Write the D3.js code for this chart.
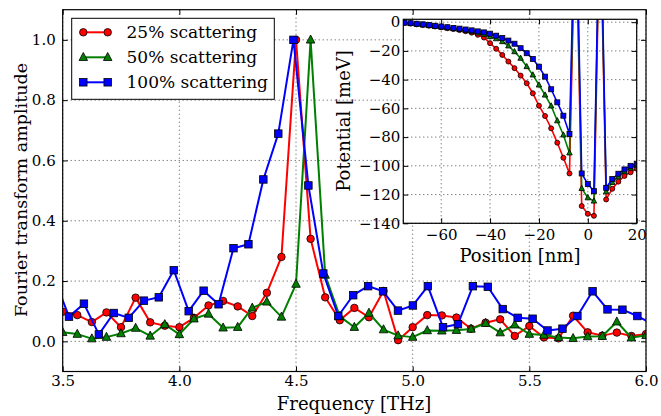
<!DOCTYPE html>
<html>
<head>
<meta charset="utf-8">
<script src="https://cdn.jsdelivr.net/npm/d3@7"></script>
<style>
  body { margin: 0; background: #fff; }
  svg { display: block; font-family: "DejaVu Serif", serif; }
</style>
</head>
<body>
<div id="chart"></div>
<script>
// main plot: Fourier amplitude vs frequency
const freqRG = [3.5, 3.5625, 3.625, 3.6875, 3.75, 3.8125, 3.875, 3.9375, 4.0, 4.0625,
  4.125, 4.1875, 4.25, 4.3125, 4.375, 4.4375, 4.5, 4.5625, 4.625, 4.6875,
  4.75, 4.8125, 4.875, 4.9375, 5.0, 5.0625, 5.125, 5.1875, 5.25, 5.3125,
  5.375, 5.4375, 5.5, 5.5625, 5.625, 5.6875, 5.75, 5.8125, 5.875, 5.9375, 6.0];
const freqB = [3.463, 3.527, 3.591, 3.655, 3.719, 3.783, 3.848, 3.912, 3.976, 4.040,
  4.104, 4.168, 4.232, 4.296, 4.360, 4.424, 4.489, 4.553, 4.617, 4.681,
  4.745, 4.809, 4.873, 4.937, 5.001, 5.065, 5.130, 5.194, 5.258, 5.322,
  5.386, 5.450, 5.514, 5.578, 5.642, 5.706, 5.771, 5.835, 5.899, 5.963, 6.027];

const amp25 = [0.098, 0.087, 0.064, 0.096, 0.047, 0.145, 0.063, 0.052, 0.047, 0.078,
  0.119, 0.134, 0.116, 0.084, 0.161, 0.280, 1.0, 0.340, 0.146, 0.070,
  0.111, 0.080, 0.167, 0.004, 0.047, 0.087, 0.086, 0.079, 0.042, 0.062,
  0.073, 0.018, 0.051, 0.013, 0.010, 0.085, 0.030, 0.019, 0.029, 0.018, 0.024];
const amp50 = [0.030, 0.024, 0.009, 0.014, 0.026, 0.044, 0.018, 0.056, 0.023, 0.075,
  0.091, 0.045, 0.047, 0.111, 0.131, 0.081, 0.190, 1.0, 0.22, 0.083,
  0.047, 0.094, 0.039, 0.019, 0.014, 0.036, 0.035, 0.037, 0.041, 0.060,
  0.029, 0.055, 0.024, 0.021, 0.013, 0.010, 0.016, 0.017, 0.065, 0.012, 0.020];
const amp100 = [0.21, 0.082, 0.125, 0.023, 0.094, 0.078, 0.135, 0.146, 0.236, 0.100,
  0.168, 0.123, 0.309, 0.322, 0.537, 0.689, 1.0, 0.517, 0.225, 0.084,
  0.153, 0.183, 0.166, 0.102, 0.119, 0.183, 0.047, 0.057, 0.183, 0.181,
  0.107, 0.078, 0.075, 0.036, 0.042, 0.084, 0.166, 0.106, 0.105, 0.084, 0.058];

// inset: potential profile
const position = [-75, -72.5, -70, -67.5, -65, -62.5, -60, -57.5, -55, -52.5,
  -50, -47.5, -45, -42.5, -40, -37.5, -35, -32.5, -30, -27.5,
  -25, -22.5, -20, -17.5, -15, -12.5, -10, -7.5, -5, -2.5,
  0, 2.5, 5, 7.5, 10, 12.5, 15, 17.5, 20];
const pot25 = [-0.5, -1.0, -1.5, -2.0, -2.5, -3.0, -3.6, -4.2, -4.8, -5.5,
  -6.3, -7.3, -8.8, -10.7, -14.6, -18.5, -22.8, -27.4, -32.0, -37.2,
  -42.5, -49.5, -58.1, -65.3, -73.9, -83.9, -94.4, -105.3, 80, -128,
  -133.4, -134.8, 80, -123.4, -116, -111, -107, -104.5, -102];
const pot50 = [-0.3, -0.8, -1.3, -1.8, -2.3, -2.8, -3.3, -3.9, -4.5, -5.1,
  -5.8, -6.6, -7.5, -8.6, -10.0, -11.5, -13.5, -16.5, -20.5, -25.1,
  -30.9, -36.7, -43.7, -50.7, -58.3, -68.6, -78.5, -91.0, 90, -115.7,
  -122.2, -124.5, 90, -118, -111.5, -107.5, -104, -101.5, -99.5];
const pot100 = [-0.3, -0.7, -1.1, -1.5, -2.0, -2.5, -3.0, -3.5, -4.0, -4.5,
  -5.1, -5.7, -6.4, -7.1, -8.0, -9.4, -11.0, -12.8, -15.0, -18.1,
  -21.6, -25.6, -31.0, -37.9, -46.7, -55.8, -65.1, -77.9, 100, -105.3,
  -112.7, -117.6, 100, -115.3, -109.2, -105.5, -102.5, -100, -98.5];

const labels = ["25% scattering", "50% scattering", "100% scattering"];
const colors = ["#ff0000", "#007f00", "#0000ff"];
const shapes = ["circle", "triangle", "square"];

const freqTicks = [3.5, 4.0, 4.5, 5.0, 5.5, 6.0];
const ampTicks = [0.0, 0.2, 0.4, 0.6, 0.8, 1.0];
const posTicks = [-60, -40, -20, 0, 20];
const potTicks = [0, -20, -40, -60, -80, -100, -120, -140];

const W = 661, H = 416;
const svg = d3.select("#chart").append("svg").attr("width", W).attr("height", H);
svg.append("rect").attr("width", W).attr("height", H).attr("fill", "#fff");

const x = d3.scaleLinear().domain([3.5, 6.0]).range([62.7, 646]);
const y = d3.scaleLinear().domain([-0.1, 1.1]).range([371.5, 9.7]);

const xi = d3.scaleLinear().domain([-75.5, 20]).range([403.3, 636.7]);
const yi = d3.scaleLinear().domain([-140, 2]).range([223.3, 19.3]);

function marker(g, shape, s) {
  if (shape === "circle") {
    return g.append("circle").attr("r", s / 2);
  }
  if (shape === "square") {
    return g.append("rect").attr("x", -s / 2).attr("y", -s / 2).attr("width", s).attr("height", s);
  }
  const h = s * 0.95;
  return g.append("path").attr("d", `M0,${-h * 0.6}L${s / 2},${h * 0.4}L${-s / 2},${h * 0.4}Z`);
}

function panel(xs, ys, fmtX, fmtY, xt, yt, clipId, padX, padY) {
  const [x0, x1] = xs.range();
  const [y0, y1] = ys.range();
  const g = svg.append("g");
  g.append("rect").attr("x", x0).attr("y", y1).attr("width", x1 - x0).attr("height", y0 - y1).attr("fill", "#fff");
  svg.append("clipPath").attr("id", clipId).append("rect")
    .attr("x", x0).attr("y", y1).attr("width", x1 - x0).attr("height", y0 - y1);

  // dotted grid
  g.selectAll(".gx").data(xt).enter().append("line")
    .attr("x1", d => xs(d)).attr("x2", d => xs(d)).attr("y1", y1).attr("y2", y0)
    .attr("stroke", "#000").attr("stroke-width", 0.7).attr("stroke-dasharray", "1,3");
  g.selectAll(".gy").data(yt).enter().append("line")
    .attr("x1", x0).attr("x2", x1).attr("y1", d => ys(d)).attr("y2", d => ys(d))
    .attr("stroke", "#000").attr("stroke-width", 0.7).attr("stroke-dasharray", "1,3");

  // inward ticks on all four sides
  const tl = 5;
  const bottom = g.append("g").attr("transform", `translate(0,${y0})`)
    .call(d3.axisBottom(xs).tickValues(xt).tickFormat(fmtX).tickSizeInner(-tl).tickSizeOuter(0).tickPadding(padX));
  const top = g.append("g").attr("transform", `translate(0,${y1})`)
    .call(d3.axisTop(xs).tickValues(xt).tickFormat("").tickSizeInner(-tl).tickSizeOuter(0));
  const left = g.append("g").attr("transform", `translate(${x0},0)`)
    .call(d3.axisLeft(ys).tickValues(yt).tickFormat(fmtY).tickSizeInner(-tl).tickSizeOuter(0).tickPadding(padY));
  const right = g.append("g").attr("transform", `translate(${x1},0)`)
    .call(d3.axisRight(ys).tickValues(yt).tickFormat("").tickSizeInner(-tl).tickSizeOuter(0));
  [bottom, top, left, right].forEach(a => {
    a.select(".domain").remove();
    a.selectAll("line").attr("stroke", "#000").attr("stroke-width", 1);
    a.selectAll("text").attr("font-family", "DejaVu Serif").attr("font-size", 15).attr("fill", "#000");
  });
  return g;
}

function frame(xs, ys) {
  const [x0, x1] = xs.range();
  const [y0, y1] = ys.range();
  svg.append("rect").attr("x", x0).attr("y", y1).attr("width", x1 - x0).attr("height", y0 - y1)
    .attr("fill", "none").attr("stroke", "#000").attr("stroke-width", 1.2);
}

function series(xs, ys, xv, yv, color, shape, lw, ms, clipId) {
  const pts = xv.map((d, i) => [d, yv[i]]);
  const g = svg.append("g").attr("clip-path", `url(#${clipId})`);
  g.append("path").datum(pts)
    .attr("d", d3.line().x(d => xs(d[0])).y(d => ys(d[1])))
    .attr("fill", "none").attr("stroke", color).attr("stroke-width", lw).attr("stroke-linejoin", "round");
  pts.forEach(p => {
    const m = g.append("g").attr("transform", `translate(${xs(p[0])},${ys(p[1])})`);
    marker(m, shape, ms).attr("fill", color).attr("stroke", "#000").attr("stroke-width", 0.8);
  });
}

// main panel
const fmt1 = d3.format(".1f");
panel(x, y, fmt1, fmt1, freqTicks, ampTicks, "clipMain", 4, 7);
series(x, y, freqRG, amp25, colors[0], shapes[0], 2, 7.5, "clipMain");
series(x, y, freqRG, amp50, colors[1], shapes[1], 2, 8.5, "clipMain");
series(x, y, freqB, amp100, colors[2], shapes[2], 2, 7.5, "clipMain");
frame(x, y);

svg.append("text").attr("x", 354).attr("y", 410).attr("text-anchor", "middle")
  .attr("font-size", 18).text("Frequency [THz]");
svg.append("text").attr("transform", "translate(27,190) rotate(-90)").attr("text-anchor", "middle")
  .attr("font-size", 17.5).text("Fourier transform amplitude");

// legend
const leg = svg.append("g");
leg.append("rect").attr("x", 71.7).attr("y", 18.3).attr("width", 202.6).attr("height", 81)
  .attr("fill", "#fff").attr("stroke", "#000").attr("stroke-width", 1);
labels.forEach((lab, i) => {
  const ly = 32.3 + i * 25;
  leg.append("line").attr("x1", 83.3).attr("x2", 107.7).attr("y1", ly).attr("y2", ly)
    .attr("stroke", colors[i]).attr("stroke-width", 2);
  [83.3, 107.7].forEach(mx => {
    const m = leg.append("g").attr("transform", `translate(${mx},${ly})`);
    marker(m, shapes[i], i === 1 ? 8.5 : 7.5).attr("fill", colors[i]).attr("stroke", "#000").attr("stroke-width", 0.8);
  });
  leg.append("text").attr("x", 126.5).attr("y", ly + 6).attr("font-size", 17).text(lab);
});

// inset panel
const fmtMinus = d => d < 0 ? "\u2212" + Math.abs(d) : String(d);
panel(xi, yi, fmtMinus, fmtMinus, posTicks, potTicks, "clipInset", 6, 3);
series(xi, yi, position, pot25, colors[0], shapes[0], 1.6, 5, "clipInset");
series(xi, yi, position, pot50, colors[1], shapes[1], 1.6, 5.5, "clipInset");
series(xi, yi, position, pot100, colors[2], shapes[2], 1.6, 5, "clipInset");
frame(xi, yi);

svg.append("text").attr("x", 520).attr("y", 262).attr("text-anchor", "middle")
  .attr("font-size", 18).text("Position [nm]");
svg.append("text").attr("transform", "translate(350,121) rotate(-90)").attr("text-anchor", "middle")
  .attr("font-size", 18).text("Potential [meV]");
</script>
</body>
</html>
